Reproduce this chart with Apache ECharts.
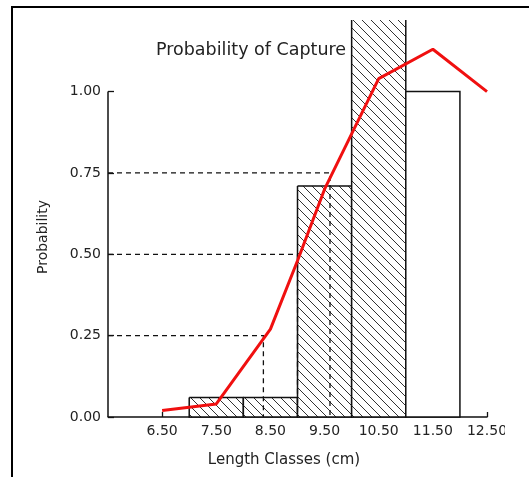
<!DOCTYPE html>
<html>
<head>
<meta charset="utf-8">
<script src="https://cdn.jsdelivr.net/npm/echarts@6/dist/echarts.min.js"></script>
<style>
  html, body { margin: 0; padding: 0; background: #fff; }
  #wrap { position: relative; width: 529px; height: 477px; overflow: hidden; background: #fff; }
  #chart { position: absolute; left: 0; top: 0; width: 505px; height: 477px; }
  #frame { position: absolute; left: 11px; top: 6px; width: 518px; height: 471px; box-sizing: border-box;
           border-left: 2px solid #000; border-top: 2px solid #000; pointer-events: none; }
</style>
</head>
<body>
<div id="wrap"><div id="chart"></div><div id="frame"></div></div>
<script>
// ---- data ----
const binLow  = [7, 8, 9, 10, 11];
const binHigh = [8, 9, 10, 11, 12];
const binValue = [0.06, 0.06, 0.71, 1.30, 1.00];
const binHatched = [1, 1, 1, 1, 0];

const lengths = [6.5, 7.5, 8.5, 9.0, 9.5, 10.0, 10.5, 11.5, 12.5];
const probCapture = [0.02, 0.04, 0.27, 0.48, 0.70, 0.87, 1.04, 1.13, 1.00];

const refLevels = [0.25, 0.50, 0.75];
const refLengths = [8.37, 9.0, 9.6];

const xTicks = [6.5, 7.5, 8.5, 9.5, 10.5, 11.5, 12.5];
const yTicks = [0, 0.25, 0.5, 0.75, 1.0];
const xMin = 5.5, xMax = 12.5, yMin = 0, yMax = 1.22, yAxisTop = 1.0;

// ---- build ----
const FONT = 'DejaVu Sans';
const barData = binLow.map((lo, i) => [lo, binHigh[i], binValue[i], binHatched[i]]);
const lineData = lengths.map((x, i) => [x, probCapture[i]]);
const refData = refLevels.map((p, i) => [refLengths[i], p]);

function renderBar(params, api) {
  const lo = api.value(0), hi = api.value(1), v = api.value(2), h = api.value(3);
  const pb = api.coord([lo, 0]);
  const pt = api.coord([hi, v]);
  const cs = params.coordSys;
  const left = pb[0], right = pt[0], bottom = pb[1];
  const clipped = pt[1] < cs.y;
  const top = clipped ? cs.y : pt[1];
  const children = [{
    type: 'rect',
    shape: { x: left, y: top, width: right - left, height: bottom - top },
    style: { fill: '#fff' }
  }];
  if (h) {
    const step = 9;
    const cStart = Math.ceil((left - bottom) / step) * step;
    for (let c = cStart; c <= right - top; c += step) {
      const y1 = Math.max(top, left - c);
      const y2 = Math.min(bottom, right - c);
      if (y2 > y1) {
        children.push({
          type: 'line',
          shape: { x1: y1 + c, y1: y1, x2: y2 + c, y2: y2 },
          style: { stroke: '#333', lineWidth: 1 }
        });
      }
    }
  }
  const pts = clipped
    ? [[left, top], [left, bottom], [right, bottom], [right, top]]
    : [[left, top], [left, bottom], [right, bottom], [right, top], [left, top]];
  children.push({
    type: 'polyline',
    shape: { points: pts },
    style: { stroke: '#111', lineWidth: 1.5, fill: null }
  });
  return { type: 'group', children: children };
}

function renderRef(params, api) {
  const L = api.value(0), p = api.value(1);
  const a = api.coord([xMin, p]);
  const b = api.coord([L, p]);
  const c = api.coord([L, 0]);
  return {
    type: 'polyline',
    shape: { points: [a, b, c] },
    style: { stroke: '#111', lineWidth: 1.3, fill: null, lineDash: [5, 4] }
  };
}

const chart = echarts.init(document.getElementById('chart'), null, { renderer: 'canvas' });
chart.setOption({
  animation: false,
  backgroundColor: '#fff',
  textStyle: { fontFamily: FONT },
  title: {
    text: 'Probability of Capture',
    left: 156, top: 41, padding: 0,
    textStyle: { fontFamily: FONT, fontSize: 17.5, fontWeight: 'normal', color: '#222' }
  },
  grid: { left: 108, right: 18, top: 20, bottom: 60, containLabel: false, outerBoundsMode: 'none' },
  xAxis: {
    type: 'value', min: xMin, max: xMax,
    name: 'Length Classes (cm)', nameLocation: 'middle', nameGap: 36,
    nameTextStyle: { fontFamily: FONT, fontSize: 15, color: '#222', padding: [0, 27, 0, 0] },
    axisLine: { show: true, lineStyle: { color: '#111', width: 1.5 } },
    axisTick: { show: true, inside: true, length: 5, customValues: xTicks, lineStyle: { color: '#111', width: 1.3 } },
    axisLabel: { customValues: xTicks, margin: 7, fontFamily: FONT, fontSize: 14, color: '#222',
                 formatter: v => v.toFixed(2) },
    splitLine: { show: false }
  },
  yAxis: {
    type: 'value', min: yMin, max: yMax,
    name: 'Probability', nameLocation: 'middle', nameGap: 58,
    nameTextStyle: { fontFamily: FONT, fontSize: 14, color: '#222', padding: [0, 37, 0, 0] },
    axisLine: { show: false },
    axisTick: { show: true, inside: true, length: 6, customValues: yTicks, lineStyle: { color: '#111', width: 1.3 } },
    axisLabel: { customValues: yTicks, margin: 7, fontFamily: FONT, fontSize: 14, color: '#222',
                 formatter: v => v.toFixed(2) },
    splitLine: { show: false }
  },
  series: [
    {
      type: 'custom', name: 'Length classes', renderItem: renderBar, data: barData,
      encode: { x: [0, 1], y: 2 }, z: 2, silent: true
    },
    {
      type: 'custom', name: 'Reference', renderItem: renderRef, data: refData,
      encode: { x: 0, y: 1 }, z: 3, silent: true
    },
    {
      type: 'line', name: 'Probability of Capture', data: lineData,
      symbol: 'none', z: 4, silent: true,
      lineStyle: { color: '#f01010', width: 3 },
      markLine: {
        silent: true, symbol: 'none', label: { show: false },
        lineStyle: { color: '#111', width: 1.5, type: 'solid' },
        data: [[{ coord: [xMin, yMin] }, { coord: [xMin, yAxisTop] }]]
      }
    }
  ]
});
</script>
</body>
</html>
